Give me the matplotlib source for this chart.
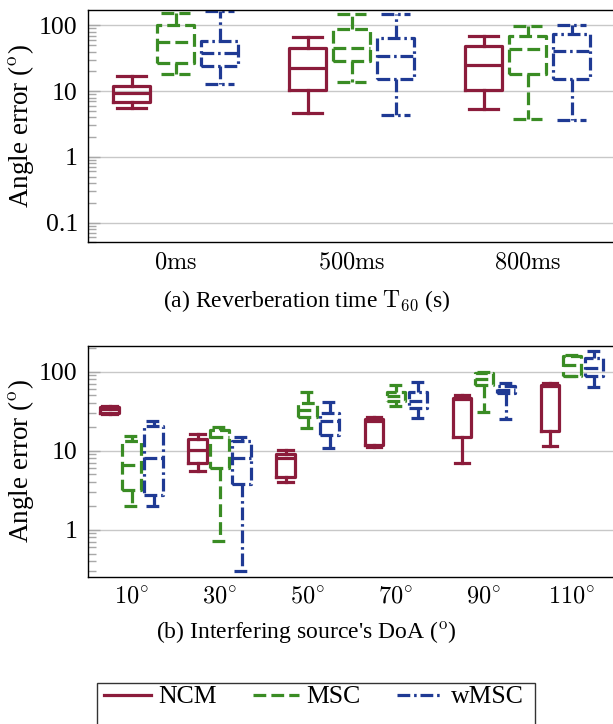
import matplotlib
matplotlib.use('Agg')
import matplotlib.pyplot as plt
import matplotlib.ticker as mticker
from matplotlib.lines import Line2D
from matplotlib.patches import Rectangle

plt.rcParams['font.family'] = ['Liberation Serif', 'DejaVu Serif']
plt.rcParams['mathtext.fontset'] = 'cm'

# ---------------- data ----------------
methods = ['NCM', 'MSC', 'wMSC']
colors = ['#8b1c3b', '#3a8c24', '#1f3a94']
styles = ['-', (0, (4, 1.6)), (0, (4, 1.2, 0.8, 1.2))]

# box statistics: (whislo, q1, med, q3, whishi)
t60_labels = [r'$\mathrm{0ms}$', r'$\mathrm{500ms}$', r'$\mathrm{800ms}$']
t60_ncm = [(5.5, 6.9, 9.3, 12.0, 17.0), (4.7, 10.3, 22.8, 46.0, 67.0), (5.3, 10.4, 25.0, 49.5, 69.0)]
t60_msc = [(18.3, 27.0, 55.0, 100.0, 152.0), (14.0, 29.0, 45.0, 89.0, 151.0), (3.8, 18.2, 44.0, 69.5, 97.0)]
t60_wmsc = [(12.7, 24.0, 38.0, 57.0, 165.0), (4.4, 15.1, 34.3, 63.5, 148.0), (3.6, 15.2, 40.8, 73.0, 102.0)]

doa_labels = [r'$10^{\circ}$', r'$30^{\circ}$', r'$50^{\circ}$', r'$70^{\circ}$', r'$90^{\circ}$', r'$110^{\circ}$']
doa_ncm = [(29.0, 30.0, 33.5, 35.5, 37.0), (5.6, 7.0, 10.3, 14.2, 16.4), (4.0, 4.7, 8.0, 9.1, 10.3),
           (11.0, 11.8, 24.0, 25.5, 27.0), (7.0, 14.9, 45.0, 46.4, 50.0), (11.3, 18.0, 65.0, 68.0, 72.0)]
doa_msc = [(2.0, 3.15, 6.65, 13.1, 15.2), (0.71, 6.0, 15.0, 18.4, 19.7), (19.4, 26.7, 33.0, 40.0, 55.3),
           (36.4, 43.0, 48.7, 55.0, 68.5), (30.6, 68.5, 80.0, 96.0, 100.0), (87.0, 89.0, 122.0, 158.0, 164.0)]
doa_wmsc = [(1.97, 2.77, 8.0, 20.3, 24.0), (0.30, 3.8, 8.1, 13.1, 14.9), (10.8, 16.0, 23.5, 30.0, 41.3),
            (25.9, 34.7, 42.0, 54.7, 74.0), (25.2, 53.7, 59.0, 65.4, 72.0), (64.0, 87.0, 111.0, 149.0, 181.0)]

captions = [r'(a) Reverberation time $\mathrm{T}_{60}$ (s)', r"(b) Interfering source's DoA ($^{\mathrm{o}}$)"]
ylabel = r'Angle error ($^{\mathrm{o}}$)'

# ---------------- figure ----------------
W, H = 613, 724
fig = plt.figure(figsize=(W / 100, H / 100), dpi=100)

def fx(px):
    return px / W

def fy(py):
    return 1 - py / H

left_px, right_px = 87.5, 616.0
ax1 = fig.add_axes([fx(left_px), fy(242.3), fx(right_px - left_px), (242.3 - 10.3) / H])
ax2 = fig.add_axes([fx(left_px), fy(577.3), fx(right_px - left_px), (577.3 - 345.7) / H])

LW = 2.3

def to_stats(t):
    lo, q1, med, q3, hi = t
    return dict(whislo=lo, q1=q1, med=med, q3=q3, whishi=hi)

def draw(ax, series, labels, ylim, yticks, ytlabels):
    n = len(labels)
    for m, (data, c, ls) in enumerate(zip(series, colors, styles)):
        pos = [4 * k + 1 + m for k in range(n)]
        props = dict(color=c, linewidth=LW, linestyle=ls)
        ax.bxp([to_stats(t) for t in data], positions=pos, widths=0.84,
               capwidths=0.66, showfliers=False, manage_ticks=False,
               boxprops=props, whiskerprops=props, capprops=props,
               medianprops=props)
    ax.set_xlim(0, 4 * n)
    ax.set_xticks([4 * k + 2 for k in range(n)])
    ax.set_xticklabels(labels)
    ax.set_yscale('log')
    ax.set_ylim(*ylim)
    ax.set_yticks(yticks)
    ax.set_yticklabels(ytlabels)
    ax.yaxis.set_minor_locator(mticker.LogLocator(base=10, subs=range(2, 10), numticks=20))
    ax.yaxis.set_minor_formatter(mticker.NullFormatter())
    ax.tick_params(axis='y', which='major', direction='in', length=8.4, width=1.0,
                   color='#a8a8a8', labelsize=18.5, pad=7, right=False)
    ax.tick_params(axis='y', which='minor', direction='in', length=5.5, width=1.0,
                   color='#a8a8a8', right=False)
    ax.tick_params(axis='x', which='both', length=0, labelsize=17.5, pad=7)
    ax.yaxis.grid(True, which='major', color='#c8c8c8', linewidth=1.0)
    ax.set_axisbelow(True)
    for s in ax.spines.values():
        s.set_linewidth(1.0)
    ax.set_ylabel(ylabel, fontsize=19.5, va='center')
    ax.yaxis.set_label_coords((21 - left_px) / (right_px - left_px), 0.5)

draw(ax1, [t60_ncm, t60_msc, t60_wmsc], t60_labels, (0.05, 170),
     [0.1, 1, 10, 100], ['0.1', '1', '10', '100'])
draw(ax2, [doa_ncm, doa_msc, doa_wmsc], doa_labels, (0.25, 213),
     [1, 10, 100], ['1', '10', '100'])

fig.text(0.5, fy(301), captions[0], ha='center', va='center', fontsize=17)
fig.text(0.5, fy(633), captions[1], ha='center', va='center', fontsize=17)

handles = [Line2D([0], [0], color=c, lw=LW, linestyle=ls) for c, ls in zip(colors, styles)]
fig.legend(handles, methods, loc='center', bbox_to_anchor=(fx(314), fy(697)), ncol=3,
           frameon=False, fontsize=18.5, handlelength=1.8, handletextpad=0.3,
           columnspacing=1.4)
fig.add_artist(Rectangle((fx(97), fy(760)), fx(535 - 97), (760 - 683) / H,
                         transform=fig.transFigure, fill=False, edgecolor='#333333',
                         linewidth=1.0))

fig.savefig('out.png', dpi=100)
